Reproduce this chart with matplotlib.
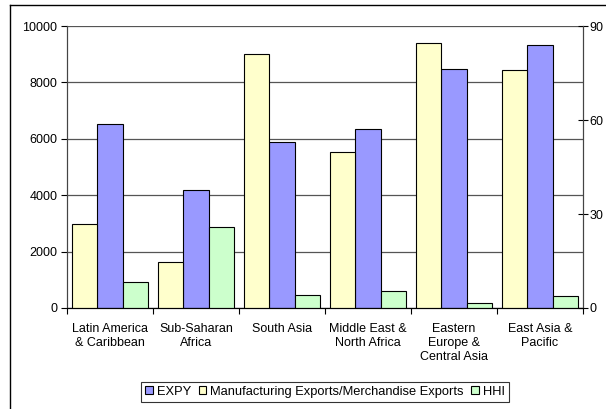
import numpy as np
import matplotlib.pyplot as plt
from matplotlib.patches import Patch
from matplotlib.lines import Line2D

plt.rcParams['font.family'] = ['Liberation Sans', 'DejaVu Sans']

# regions and series
regions = ['Latin America\n& Caribbean', 'Sub-Saharan\nAfrica', 'South Asia',
           'Middle East &\nNorth Africa', 'Eastern\nEurope &\nCentral Asia',
           'East Asia &\nPacific']
expy = [6520, 4180, 5870, 6350, 8470, 9340]          # left axis
manuf_share = [26.8, 14.7, 81.0, 49.8, 84.5, 76.0]  # right axis
hhi = [8.3, 25.9, 4.3, 5.3, 1.5, 3.9]               # right axis

blue = '#9999FF'
yellow = '#FFFFCC'
green = '#CCFFCC'

x = np.arange(len(regions))
w = 0.297

fig = plt.figure(figsize=(6.06, 4.09), dpi=100)
ax = fig.add_axes([67 / 606, 1 - 308 / 409, 516 / 606, 282 / 409])
ax2 = ax.twinx()

ax.bar(x, expy, w, color=blue, edgecolor='black', linewidth=0.8, zorder=2)
ax2.bar(x - w, manuf_share, w, color=yellow, edgecolor='black', linewidth=0.8)
ax2.bar(x + w, hhi, w, color=green, edgecolor='black', linewidth=0.8)

ax.set_xlim(-0.5, len(regions) - 0.5)
ax.set_ylim(0, 10000)
ax2.set_ylim(0, 90)
ax.set_yticks(np.arange(0, 10001, 2000))
ax2.set_yticks([0, 30, 60, 90])

ax.set_xticks(np.arange(-0.5, len(regions)), [])
ax.set_xticks(x, regions, minor=True)
ax.tick_params(axis='x', which='major', direction='out', length=4, width=0.8)
ax.tick_params(axis='x', which='minor', length=0, pad=11, labelsize=9)
ax.tick_params(axis='y', direction='out', length=4, width=0.8, labelsize=9, pad=3)
ax2.tick_params(axis='y', direction='inout', length=7, width=0.8, labelsize=9, pad=1)

ax.grid(axis='y', color='#555555', linewidth=0.9)
ax.set_axisbelow(True)
for a in (ax, ax2):
    a.spines['top'].set_visible(False)
    a.spines['left'].set_color('#444444')
    a.spines['right'].set_color('#444444')
    a.spines['bottom'].set_color('black')

handles = [Patch(facecolor=blue, edgecolor='black', linewidth=0.8),
           Patch(facecolor=yellow, edgecolor='black', linewidth=0.8),
           Patch(facecolor=green, edgecolor='black', linewidth=0.8)]
labels = ['EXPY', 'Manufacturing Exports/Merchandise Exports', 'HHI']
leg = fig.legend(handles, labels, loc='upper left',
                 bbox_to_anchor=(141 / 606, 1 - 382 / 409), ncol=3,
                 fontsize=9.3, frameon=True, fancybox=False, edgecolor='black',
                 handlelength=0.6, handleheight=0.6, handletextpad=0.3,
                 columnspacing=0.6, borderpad=0.3, borderaxespad=0)
leg.get_frame().set_linewidth(0.8)

# outer chart border: only its left and top edges are inside the picture
top = 1 - 5 / 409
left = 9.5 / 606
fig.add_artist(Line2D([left, left], [0, top], color='black', linewidth=1.0))
fig.add_artist(Line2D([left, 1], [top, top], color='black', linewidth=1.0))

plt.savefig('out.png', dpi=100)
print("plot successfully generated")
